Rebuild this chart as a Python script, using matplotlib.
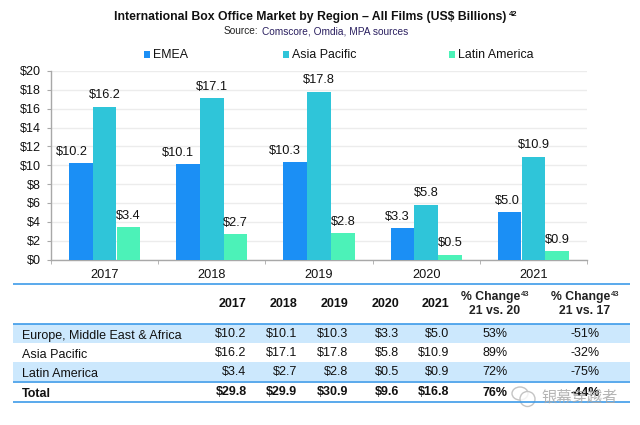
import matplotlib
matplotlib.use('Agg')
import matplotlib.pyplot as plt
from matplotlib.patches import Rectangle, Ellipse
import numpy as np

years = ['2017', '2018', '2019', '2020', '2021']
emea = [10.2, 10.1, 10.3, 3.3, 5.0]
asia = [16.2, 17.1, 17.8, 5.8, 10.9]
latam = [3.4, 2.7, 2.8, 0.5, 0.9]
series_names = ['EMEA', 'Asia Pacific', 'Latin America']
yticks = [0, 2, 4, 6, 8, 10, 12, 14, 16, 18, 20]

row_names = ['Europe, Middle East & Africa', 'Asia Pacific', 'Latin America', 'Total']
totals = ['$29.8', '$29.9', '$30.9', '$9.6', '$16.8']
change_20 = ['53%', '89%', '72%', '76%']
change_17 = ['-51%', '-32%', '-75%', '-44%']

W, H = 640, 425
BLUE = '#1b8ff5'
TEAL = '#2fc5d9'
MINT = '#4cf2b8'
LINE = '#3d9be9'

plt.rcParams['font.family'] = ['Liberation Sans', 'Noto Sans CJK SC', 'DejaVu Sans']
plt.rcParams['text.parse_math'] = False
fig = plt.figure(figsize=(W / 100, H / 100), dpi=100)

# everything outside the bars is placed in pixels
page = fig.add_axes([0, 0, 1, 1])
page.set_xlim(0, W)
page.set_ylim(H, 0)
page.axis('off')

# ---- chart ----
ax = fig.add_axes([51 / W, 1 - 259.5 / H, 536 / W, 188.5 / H])
x = np.arange(len(years))
width = 0.222
# EMEA labels are pushed left so they clear the taller Asia bar (pixels)
emea_shift = [-9, -10, -10, -5.5, -2.5]
no_shift = [0, 0, 0, 0, 0]
for off, vals, col, shift in [(-width, emea, BLUE, emea_shift), (0, asia, TEAL, no_shift), (width, latam, MINT, no_shift)]:
    ax.bar(x + off, vals, width * 0.99, color=col, zorder=3)
    for xi, v, dx in zip(x + off, vals, shift):
        ax.annotate(f'${v:.1f}', (xi, v), xytext=(dx * 0.72, 11.5 * 0.72), textcoords='offset points',
                    ha='center', va='center', fontsize=9.2, color='#111111', zorder=4)
ax.set_xlim(-0.5, 4.5)
ax.set_ylim(0, 20)
ax.set_yticks(yticks)
ax.set_yticklabels([f'${v}' for v in yticks], fontsize=9, color='#111111')
ax.set_xticks(x)
ax.set_xticklabels(years, fontsize=9.2, color='#111111')
ax.set_xticks(np.arange(-0.5, 5, 1), minor=True)
ax.tick_params(axis='x', which='major', length=0, pad=7)
ax.tick_params(axis='x', which='minor', length=3, color='#a8a8a8')
ax.tick_params(axis='y', length=3, color='#a8a8a8', pad=4.5)
ax.grid(axis='y', color='#ececec', linewidth=1, zorder=0)
for s in ['top', 'right']:
    ax.spines[s].set_visible(False)
for s in ['left', 'bottom']:
    ax.spines[s].set_color('#a8a8a8')
    ax.spines[s].set_linewidth(1)

# ---- title ----
page.text(114.5, 17, 'International Box Office Market by Region – All Films (US$ Billions)',
          ha='left', va='center', fontsize=8.8, fontweight='bold', color='#111111')
page.text(508.5, 14, '42', ha='left', va='center', fontsize=5.5, fontweight='bold', color='#111111')
page.text(224, 31, 'Source:', ha='left', va='center', fontsize=7.3, color='#222222')
page.text(261.5, 31, 'Comscore, Omdia, MPA sources', ha='left', va='center', fontsize=7.3, color='#2b2060')

# ---- legend ----
for name, col, sx in zip(series_names, [BLUE, TEAL, MINT], [143.5, 282.5, 449]):
    page.add_patch(Rectangle((sx, 51), 6, 6.5, color=col, lw=0))
    page.text(sx + 9, 54.5, name, ha='left', va='center', fontsize=8.9, color='#111111')

# ---- table ----
for y0, y1 in [(324, 343), (362, 381)]:
    page.add_patch(Rectangle((13, y0), 617, y1 - y0, color='#cce8fd', lw=0))
for yl in [283.5, 323.5, 381.5, 401.5]:
    page.plot([13, 630], [yl, yl], color=LINE, lw=1.2, solid_capstyle='butt')

year_right = [246.5, 297, 348, 399, 449.5]
row_y = [334, 353, 372, 392]
name_y = [336, 355, 374, 394]
rows = [emea, asia, latam]

for yr, xr in zip(years, year_right):
    page.text(xr, 304, yr, ha='right', va='center', fontsize=9, fontweight='bold', color='#111111')
for left, mid, sub in [(461, 495, '21 vs. 20'), (551, 585, '21 vs. 17')]:
    page.text(left, 297, '% Change', ha='left', va='center', fontsize=8.8, fontweight='bold', color='#222222')
    page.text(left + 59.5, 294.5, '43', ha='left', va='center', fontsize=5.5, fontweight='bold', color='#333333')
    page.text(mid, 311.5, sub, ha='center', va='center', fontsize=8.8, fontweight='bold', color='#222222')

for i, name in enumerate(row_names):
    bold = name == 'Total'
    weight = 'bold' if bold else 'normal'
    page.text(22, name_y[i], name, ha='left', va='center', fontsize=9, fontweight=weight, color='#111111')
    if bold:
        cells = totals
    else:
        cells = [f'${rows[i][j]:.1f}' for j in range(len(years))]
    for txt, xr in zip(cells, year_right):
        page.text(xr, row_y[i], txt, ha='right', va='center', fontsize=9, fontweight=weight, color='#111111')
    page.text(495, row_y[i] + (1 if bold else 0), change_20[i], ha='center', va='center',
              fontsize=9, fontweight=weight, color='#111111')
    page.text(585, row_y[i] + (1 if bold else 0), change_17[i], ha='center', va='center',
              fontsize=9, fontweight=weight, color='#111111')

# ---- watermark ----
page.add_patch(Ellipse((520, 393.5), 16, 13, fc=(1, 1, 1, 0.6), ec='#c4c4c4', lw=1))
page.add_patch(Ellipse((527.5, 399), 15, 15, fc=(1, 1, 1, 0.8), ec='#c4c4c4', lw=1))
page.text(541, 397, '银幕穿越者', ha='left', va='center', fontsize=11, color='#a8a8a8', alpha=0.85)

fig.savefig('out.png', dpi=100)
